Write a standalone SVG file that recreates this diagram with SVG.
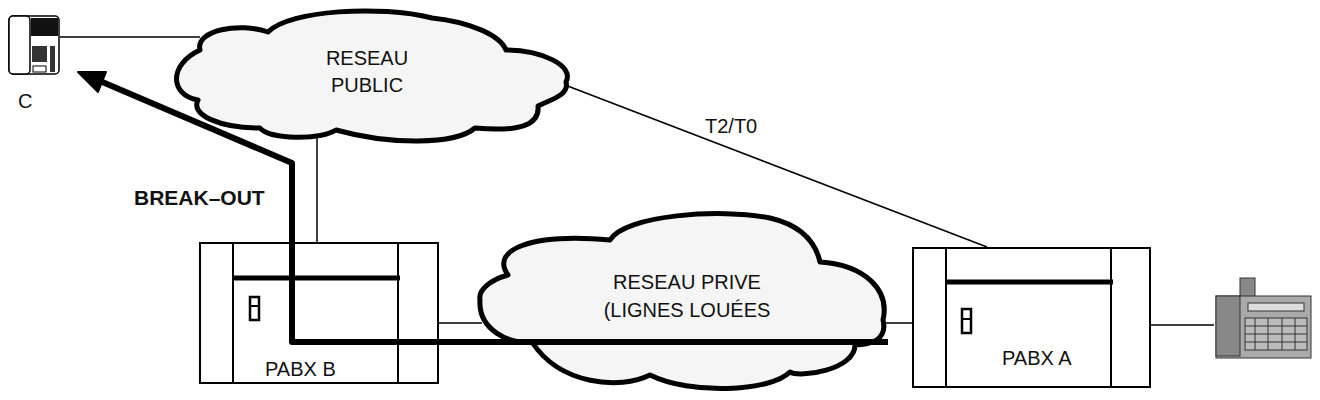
<svg xmlns="http://www.w3.org/2000/svg" width="1320" height="400" viewBox="0 0 1320 400">
<style>
text{font-family:"Liberation Sans",Arial,sans-serif;font-size:20px;fill:#111}
.cloud{fill:#f5f5f5;stroke:#000;stroke-width:5;stroke-linejoin:round}
.box{fill:#fff;stroke:#000;stroke-width:2}
.thin{stroke:#000;stroke-width:1.5;fill:none}
.bar{stroke:#000;stroke-width:5}
</style>
<g id="connectors">
<line class="thin" x1="60" y1="37" x2="200" y2="37"/>
<line class="thin" x1="317" y1="135" x2="317" y2="242"/>
<line class="thin" x1="552" y1="80" x2="987" y2="247"/>
<line class="thin" x1="434" y1="323" x2="482" y2="323"/>
<line class="thin" x1="880" y1="323" x2="913" y2="323"/>
<line class="thin" x1="1150" y1="325" x2="1214" y2="325"/>
</g>
<g id="reseau-public">
<path class="cloud" d="M200,50 C195,30 240,22 268,32 C290,10 380,5 432,18 C470,22 500,35 506,50 C540,50 575,65 566,82 C570,95 550,100 538,106 C540,125 520,132 475,128 C455,145 390,145 336,130 C320,140 270,140 260,128 C220,128 190,115 198,100 C170,95 168,65 200,50 Z"/>
<text x="367" y="65" text-anchor="middle">RESEAU</text>
<text x="367" y="92" text-anchor="middle">PUBLIC</text>
</g>
<g id="pabx-b">
<rect class="box" x="200" y="243" width="238" height="140"/>
<line x1="233" y1="243" x2="233" y2="383" stroke="#000" stroke-width="2"/>
<line x1="398" y1="243" x2="398" y2="383" stroke="#000" stroke-width="2"/>
<line class="bar" x1="233" y1="278" x2="400" y2="278"/>
<rect x="250" y="297" width="9" height="23" fill="#fff" stroke="#000" stroke-width="2.5"/>
<line x1="250" y1="306" x2="259" y2="306" stroke="#000" stroke-width="2"/>
<text x="265" y="376">PABX B</text>
</g>
<g id="reseau-prive">
<path class="cloud" d="M508,275 C490,250 530,233 610,240 C625,215 720,208 770,218 C800,225 815,240 820,262 C865,265 890,290 883,320 C888,340 870,345 855,345 C855,370 800,378 790,372 C770,392 690,395 650,375 C620,390 560,385 532,342 C510,345 478,330 480,300 C478,290 490,280 508,275 Z"/>
<text x="687" y="289" text-anchor="middle">RESEAU PRIVE</text>
<text x="687" y="317" text-anchor="middle">(LIGNES LOUÉES</text>
</g>
<g id="break-out">
<path d="M888,342 L292,342 L292,163 L100,81" fill="none" stroke="#000" stroke-width="6" stroke-linejoin="round"/>
<polygon points="78,72 106,72 98,92" fill="#000" stroke="#000" stroke-width="2" stroke-linejoin="round"/>
<text x="134" y="205" style="font-weight:bold;font-size:21px">BREAK–OUT</text>
</g>
<g id="t2t0"><text x="705" y="133">T2/T0</text></g>
<g id="pabx-a">
<rect class="box" x="913" y="248" width="237" height="139"/>
<line x1="946" y1="248" x2="946" y2="387" stroke="#000" stroke-width="2"/>
<line x1="1111" y1="248" x2="1111" y2="387" stroke="#000" stroke-width="2"/>
<line class="bar" x1="946" y1="282" x2="1113" y2="282"/>
<rect x="962" y="309" width="9" height="24" fill="#fff" stroke="#000" stroke-width="2.5"/>
<line x1="962" y1="319" x2="971" y2="319" stroke="#000" stroke-width="2"/>
<text x="1002" y="365">PABX A</text>
</g>
<g id="phone-c">
<rect x="9" y="16" width="50" height="58" rx="4" fill="#fff" stroke="#000" stroke-width="1.5"/>
<rect x="9" y="16" width="21" height="58" rx="4" fill="#fff" stroke="#000" stroke-width="1.5"/>
<rect x="31" y="18" width="27" height="18" fill="#111"/>
<rect x="32" y="46" width="15" height="16" fill="#333"/>
<rect x="33" y="66" width="13" height="6" fill="#fff" stroke="#000"/>
<rect x="50" y="46" width="5" height="26" fill="#333"/>
<text x="18" y="108">C</text>
</g>
<g id="phone-a">
<rect x="1240" y="278" width="15" height="22" fill="#888" stroke="#333"/>
<rect x="1216" y="296" width="95" height="62" fill="#aaa" stroke="#333"/>
<rect x="1216" y="296" width="24" height="60" fill="#888" stroke="#333"/>
<rect x="1248" y="303" width="56" height="8" fill="#ddd" stroke="#333"/>
<rect x="1245" y="318" width="62" height="32" fill="#bbb" stroke="#333"/>
<path d="M1255,318 V350 M1268,318 V350 M1282,318 V350 M1295,318 V350 M1245,326 H1307 M1245,334 H1307 M1245,342 H1307" stroke="#333" stroke-width="1"/>
</g>
</svg>
